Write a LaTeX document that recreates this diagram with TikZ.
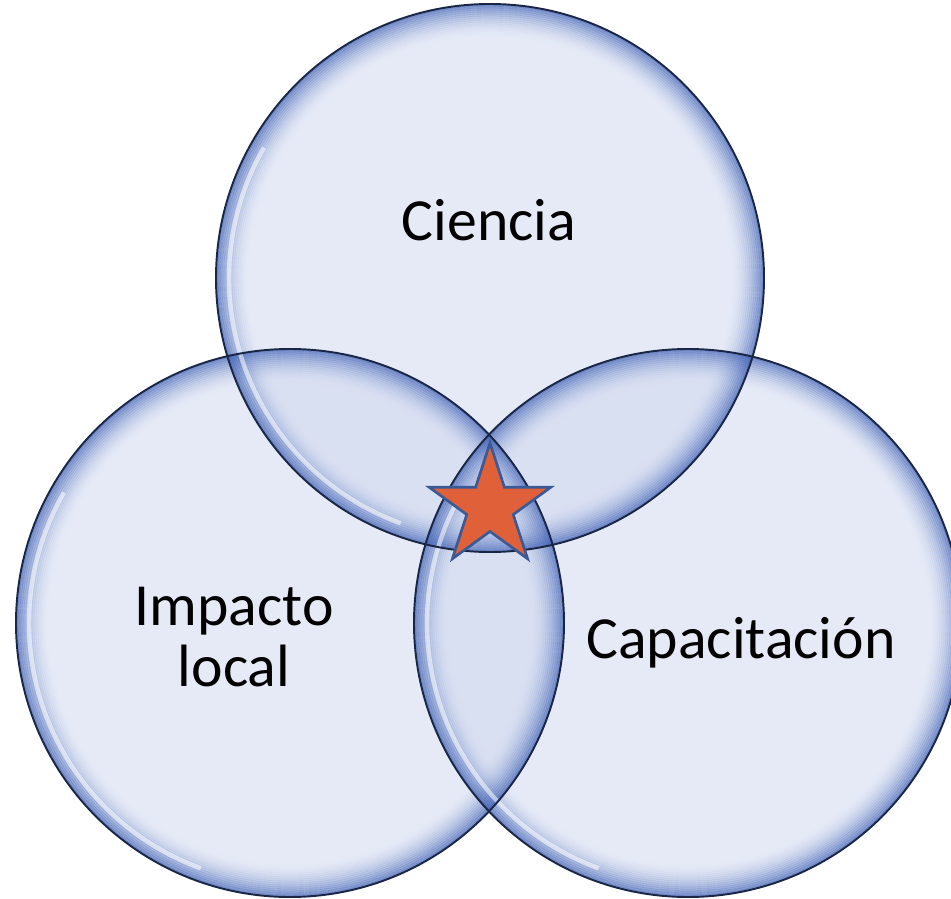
\documentclass[tikz,border=0pt]{standalone}
\usepackage{fontspec}
\setmainfont{Carlito}
\usetikzlibrary{shapes.geometric}
\usetikzlibrary{positioning}

\definecolor{bubblefill}{RGB}{205,214,238}
\definecolor{bubblerim}{RGB}{62,96,180}
\definecolor{bubbleline}{RGB}{26,38,70}
\definecolor{starfill}{RGB}{224,96,58}
\definecolor{starline}{RGB}{58,90,150}

\tikzset{
  bubble/.style={fill=bubblefill, fill opacity=0.5},
  rim/.style={draw=bubblerim, line width=1.25pt},
  bubbleedge/.style={draw=bubbleline, line width=1.1pt},
  label/.style={font=\fontsize{34}{34.5}\selectfont, align=center, inner sep=0}
}

\begin{document}
\begin{tikzpicture}[x=0.02cm, y=0.02cm]
  \useasboundingbox (0,0) rectangle (951,-899);

  \coordinate (ciencia) at (490,-278);
  \coordinate (impacto) at (290,-623);
  \coordinate (capacitacion) at (688,-623);

  % light bodies, overlaps get darker
  \foreach \bub in {ciencia,impacto,capacitacion}
    \fill[bubble] (\bub) circle (274);

  % blue glow along the inside of each rim
  \foreach \bub in {ciencia,impacto,capacitacion}{
    \foreach \k in {0,...,16}{
      \pgfmathsetmacro{\op}{0.65*(1-\k/17)^2}
      \draw[rim, draw opacity=\op] (\bub) circle (273-2*\k);
    }
  }

  % glossy highlight
  \foreach \bub in {ciencia,impacto,capacitacion}
    \draw[white, line width=2.5pt, draw opacity=0.55] ([shift={(150:261)}]\bub) arc (150:250:261);

  \foreach \bub in {ciencia,impacto,capacitacion}
    \draw[bubbleedge] (\bub) circle (274);

  \node[label, anchor=base] (ciencia-text) at (489,-240) {Ciencia};
  \node[label] (impacto-text) at (234,-637) {Impacto\\local};
  \node[label, anchor=base] (capacitacion-text) at (741,-658) {Capacitación};

  \node[star, star points=5, star point ratio=2.618, minimum size=2.56cm,
    inner sep=0, fill=starfill, draw=starline, line width=1.5pt] (centre) at (490,-507) {};
\end{tikzpicture}
\end{document}
